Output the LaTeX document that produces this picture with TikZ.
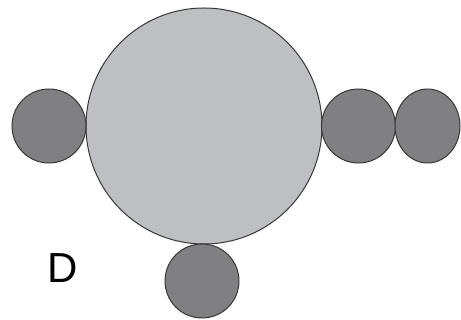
\documentclass[tikz,border=0pt]{standalone}
\usepackage{fontspec}
\usetikzlibrary{shapes.geometric}
\setmainfont{Liberation Sans}
\definecolor{bigfill}{RGB}{190,191,195}
\definecolor{smallfill}{RGB}{128,128,131}
\definecolor{edge}{RGB}{55,55,58}
\begin{document}
\begin{tikzpicture}[x=1pt,y=-1pt,
  big/.style={circle,draw=edge,fill=bigfill,line width=1pt,minimum size=236pt,inner sep=0pt},
  small/.style={circle,draw=edge,fill=smallfill,line width=1pt,minimum size=74pt,inner sep=0pt}]
\useasboundingbox (0,0) rectangle (461,320);
\node[big] (c) at (204,126) {};
\node[small] (l) at (49,126) {};
\node[small] (r1) at (358.5,126) {};
\node[ellipse,draw=edge,fill=smallfill,line width=1pt,minimum width=65pt,minimum height=74pt,inner sep=0pt] (r2) at (427.5,126) {};
\node[small] (b) at (202,281) {};
\node[font=\fontsize{42}{42}\selectfont,inner sep=0pt] (d) at (63,268) {D};
\end{tikzpicture}
\end{document}
